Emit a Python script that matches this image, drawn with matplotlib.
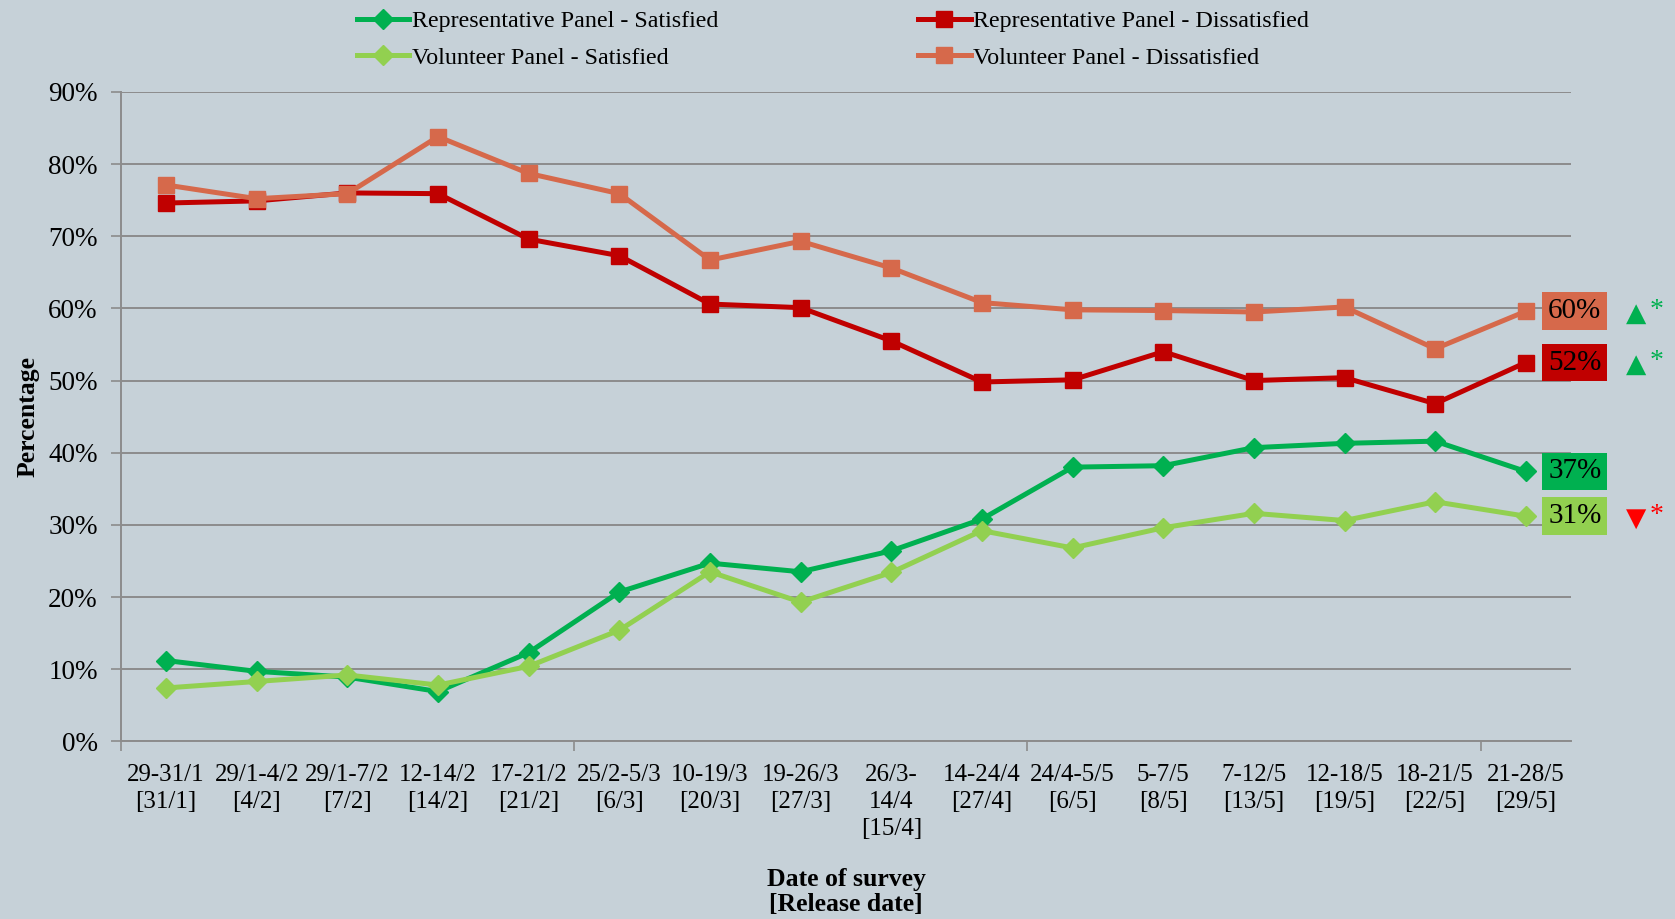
import matplotlib.pyplot as plt
from matplotlib.ticker import FixedLocator

plt.rcParams['font.family'] = ['Liberation Serif', 'DejaVu Serif']

dates = ['29-31/1\n[31/1]', '29/1-4/2\n[4/2]', '29/1-7/2\n[7/2]', '12-14/2\n[14/2]',
         '17-21/2\n[21/2]', '25/2-5/3\n[6/3]', '10-19/3\n[20/3]', '19-26/3\n[27/3]',
         '26/3-\n14/4\n[15/4]', '14-24/4\n[27/4]', '24/4-5/5\n[6/5]', '5-7/5\n[8/5]',
         '7-12/5\n[13/5]', '12-18/5\n[19/5]', '18-21/5\n[22/5]', '21-28/5\n[29/5]']

rep_sat = [11.2, 9.7, 8.9, 6.9, 12.3, 20.7, 24.7, 23.5, 26.4, 30.8, 38.0, 38.2, 40.7, 41.3, 41.6, 37.4]
vol_sat = [7.4, 8.3, 9.2, 7.8, 10.4, 15.4, 23.5, 19.3, 23.4, 29.2, 26.8, 29.6, 31.6, 30.6, 33.2, 31.2]
rep_dis = [74.6, 74.9, 76.0, 75.9, 69.6, 67.3, 60.6, 60.1, 55.5, 49.8, 50.1, 54.0, 50.0, 50.4, 46.8, 52.5]
vol_dis = [77.1, 75.2, 75.9, 83.8, 78.7, 75.9, 66.7, 69.3, 65.6, 60.8, 59.8, 59.7, 59.5, 60.2, 54.4, 59.6]

# label shown at the end of each series, plus significance marks
end_labels = ['37%', '31%', '52%', '60%']
sig_marks = [None, ('\u25BC', '#FF0000'), ('\u25B2', '#00B050'), ('\u25B2', '#00B050')]

bg = '#C6D1D8'
grid_c = '#8C8C8C'
colors = ['#00B050', '#92D050', '#C00000', '#D6694B']
names = ['Representative Panel - Satisfied', 'Volunteer Panel - Satisfied',
         'Representative Panel - Dissatisfied', 'Volunteer Panel - Dissatisfied']
series = [rep_sat, vol_sat, rep_dis, vol_dis]
markers = ['D', 'D', 's', 's']
msizes = [10, 10, 12, 12]

fig = plt.figure(figsize=(16.75, 9.19), dpi=100, facecolor=bg)
ax = fig.add_axes([0.0721, 0.1933, 0.8659, 0.7067])
ax.set_facecolor(bg)

x = list(range(len(dates)))
handles = []
for vals, c, m, ms, name in zip(series, colors, markers, msizes, names):
    h, = ax.plot(x, vals, color=c, lw=3.6, marker=m, ms=ms, label=name, zorder=3,
                 clip_on=False)
    handles.append(h)

for vals, c, lab, sig in zip(series, colors, end_labels, sig_marks):
    ax.text(15.54, vals[-1], lab, ha='center', va='center', fontsize=21, color='black',
            bbox=dict(boxstyle='square,pad=0.2', fc=c, ec='none'), clip_on=False, zorder=4)
    if sig:
        ax.text(16.22, vals[-1] - 0.3, sig[0], ha='center', va='center', fontsize=19,
                color=sig[1], family=['DejaVu Sans'], clip_on=False)
        ax.text(16.44, vals[-1] + 0.1, '*', ha='center', va='center', fontsize=20,
                color=sig[1], clip_on=False)

ax.set_xlim(-0.5, 15.5)
ax.set_ylim(0, 90)
ax.set_yticks(range(0, 91, 10))
ax.set_yticklabels([f'{v}%' for v in range(0, 91, 10)], fontsize=19.5)
ax.set_xticks(x)
ax.set_xticklabels(dates, fontsize=18, linespacing=1.3)
ax.xaxis.set_minor_locator(FixedLocator([-0.5, 4.5, 9.5, 14.5]))
ax.tick_params(axis='x', which='major', length=0, pad=16)
ax.tick_params(axis='x', which='minor', length=7, color=grid_c, width=1.2)
ax.tick_params(axis='y', length=7, color=grid_c, width=1.2, pad=9.5)

ax.grid(axis='y', color=grid_c, lw=1.4, zorder=1)
for s in ['top', 'right']:
    ax.spines[s].set_visible(False)
for s in ['left', 'bottom']:
    ax.spines[s].set_color(grid_c)
    ax.spines[s].set_linewidth(1.4)

ax.set_ylabel('Percentage', fontsize=18.5, fontweight='bold', labelpad=6)
ax.set_xlabel('Date of survey\n[Release date]', fontsize=18.5, fontweight='bold',
              labelpad=20, linespacing=1.15)

fig.legend(handles=handles, loc='upper left', bbox_to_anchor=(0.2, 1.012), ncol=2,
           frameon=False, fontsize=17.3, columnspacing=8.3, handlelength=2.2,
           handletextpad=0.1, labelspacing=0.6)

fig.savefig('out.png', dpi=100, facecolor=bg)
